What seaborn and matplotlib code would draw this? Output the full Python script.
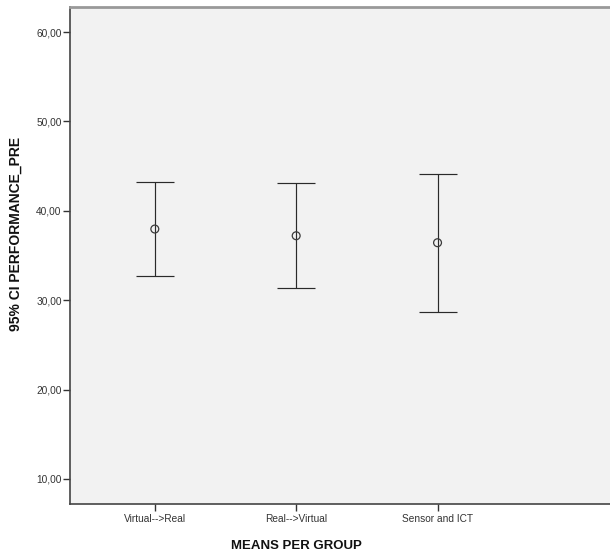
import matplotlib
matplotlib.use("Agg")
import matplotlib.pyplot as plt
import seaborn as sns
import pandas as pd

# valores
groups = ["Virtual-->Real", "Real-->Virtual", "Sensor and ICT"]
means = [37.96, 37.21, 36.43]
ci_low = [32.74, 31.36, 28.71]
ci_high = [43.19, 43.07, 44.15]
yticks = [10, 20, 30, 40, 50, 60]

df = pd.DataFrame({"group": groups, "mean": means, "lo": ci_low, "hi": ci_high})
df["pos"] = range(len(groups))

sns.set_style("white")
plt.rcParams["font.family"] = ["Liberation Sans", "DejaVu Sans"]

fig = plt.figure(figsize=(6.1, 5.55), dpi=100)
ax = fig.add_axes([70 / 610, 51 / 555, 540 / 610, 497 / 555])
ax.set_facecolor("#f2f2f2")

# barras de error (IC 95%)
ax.errorbar(df["pos"], df["mean"],
            yerr=[df["mean"] - df["lo"], df["hi"] - df["mean"]],
            fmt="none", ecolor="#2a2a2a", elinewidth=0.85,
            capsize=13.5, capthick=0.85, zorder=2)

# medias
sns.scatterplot(data=df, x="pos", y="mean", ax=ax, marker="o", s=32,
                facecolor="none", edgecolor="#3a3a3a", linewidth=0.9, zorder=3)

ax.set_xlim(-0.6, 3.22)
ax.set_ylim(7.2, 62.8)
ax.set_yticks(yticks)
ax.set_yticklabels([f"{v:.2f}".replace(".", ",") for v in yticks])
ax.set_xticks(df["pos"])
ax.set_xticklabels(groups)

ax.tick_params(axis="both", direction="out", length=5, width=1,
               color="#333333", labelsize=7.3, labelcolor="#333333",
               bottom=True, left=True)
ax.tick_params(axis="x", pad=2)
ax.tick_params(axis="y", pad=1)

for side in ["left", "bottom"]:
    ax.spines[side].set_color("#444444")
    ax.spines[side].set_linewidth(1.2)
ax.spines["top"].set_color("#999999")
ax.spines["top"].set_linewidth(2)
ax.spines["right"].set_visible(False)

ax.set_xlabel("MEANS PER GROUP", fontsize=9.5, fontweight="bold", color="#111111")
ax.set_ylabel("95% CI PERFORMANCE_PRE", fontsize=10, fontweight="bold", color="#111111")
ax.xaxis.set_label_coords((296 - 70) / 540, -36 / 497)
ax.yaxis.set_label_coords(-47 / 540, (504 - 234) / 497)

fig.savefig("out.png", dpi=100)
